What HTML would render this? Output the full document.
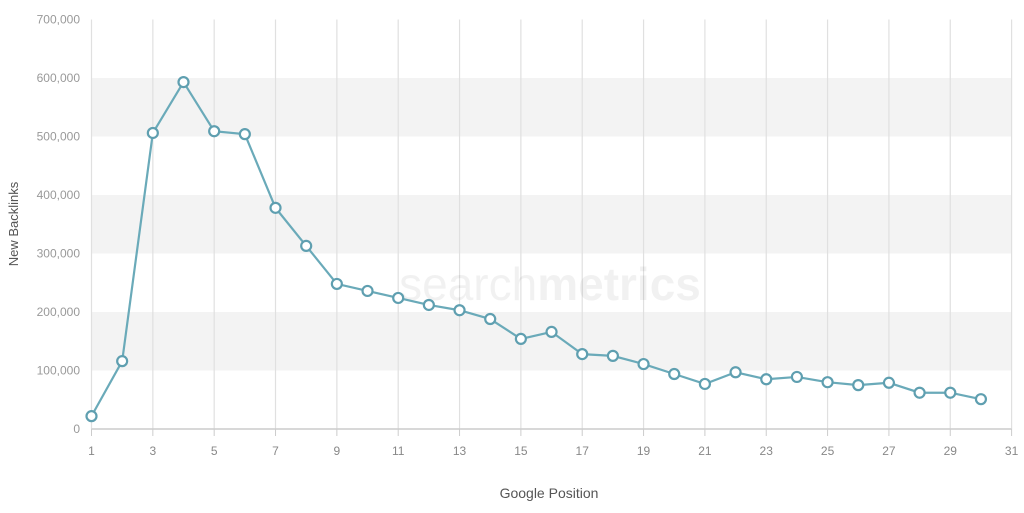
<!DOCTYPE html>
<html><head><meta charset="utf-8"><style>
body{margin:0;background:#fff;width:1024px;height:508px;overflow:hidden}
svg text{font-family:"Liberation Sans",sans-serif}
</style></head><body>
<svg id="chart" width="1024" height="508" viewBox="0 0 1024 508">
<g id="bands"></g><g id="grid"></g>
<text x="550" y="300" font-size="46" fill="#000" opacity="0.05" text-anchor="middle">search<tspan font-weight="bold">metrics</tspan></text>
<g id="axes"></g><g id="series"></g>
<text x="549" y="498" font-size="14" fill="#555" text-anchor="middle">Google Position</text>
<text transform="translate(18,224) rotate(-90)" font-size="13" fill="#555" text-anchor="middle">New Backlinks</text>
</svg>
<script>
const positions=[1,2,3,4,5,6,7,8,9,10,11,12,13,14,15,16,17,18,19,20,21,22,23,24,25,26,27,28,29,30];
const backlinks=[22000,116000,506000,593000,509000,504000,378000,313000,248000,236000,224000,212000,203000,188000,154000,166000,128000,125000,111000,94000,77000,97000,85000,89000,80000,75000,79000,62000,62000,51000];
const yTicks=[0,100000,200000,300000,400000,500000,600000,700000];
const xTicks=[1,3,5,7,9,11,13,15,17,19,21,23,25,27,29,31];
const NS="http://www.w3.org/2000/svg";
const X=v=>91.5+(v-1)*30.67;
const Y=v=>429-v/100000*58.5;
function mk(parent,tag,attrs){const e=document.createElementNS(NS,tag);for(const k in attrs)e.setAttribute(k,attrs[k]);document.getElementById(parent).appendChild(e);return e;}
for(let i=1;i<yTicks.length-1;i+=2){
 const b=mk('bands','rect',{x:X(1),y:Y(yTicks[i+1]),width:X(31)-X(1),height:Y(yTicks[i])-Y(yTicks[i+1]),fill:'#f3f3f3'});
 
 
}
xTicks.forEach(t=>{
 const l=mk('grid','line',{x1:X(t),x2:X(t),y1:Y(700000),y2:Y(0),stroke:'#e0e0e0','stroke-width':1.2});
 
 
 const tk=mk('axes','line',{x1:X(t),x2:X(t),y1:429,y2:436,stroke:'#ccc'});
 
 
 const tx=mk('axes','text',{x:X(t),y:455,'font-size':12,fill:'#888','text-anchor':'middle'});
 tx.textContent=t;
 
 
});
yTicks.forEach(t=>{
 const tx=mk('axes','text',{x:80,y:Y(t)+4,'font-size':12,fill:'#999','text-anchor':'end'});
 tx.textContent=t.toLocaleString('en-US');
 
 
});
const ax=mk('axes','line',{x1:X(1),x2:X(31),y1:429,y2:429,stroke:'#ccc','stroke-width':1.5});


const line=mk('series','polyline',{points:positions.map((p,i)=>X(p)+','+Y(backlinks[i])).join(' '),fill:'none',stroke:'#6aaab9','stroke-width':2.2});


positions.forEach((p,i)=>{
 const c=mk('series','circle',{cx:X(p),cy:Y(backlinks[i]),r:5,fill:'#fff',stroke:'#5f9fb0','stroke-width':2.2});
 
 
});
</script>
</body></html>
